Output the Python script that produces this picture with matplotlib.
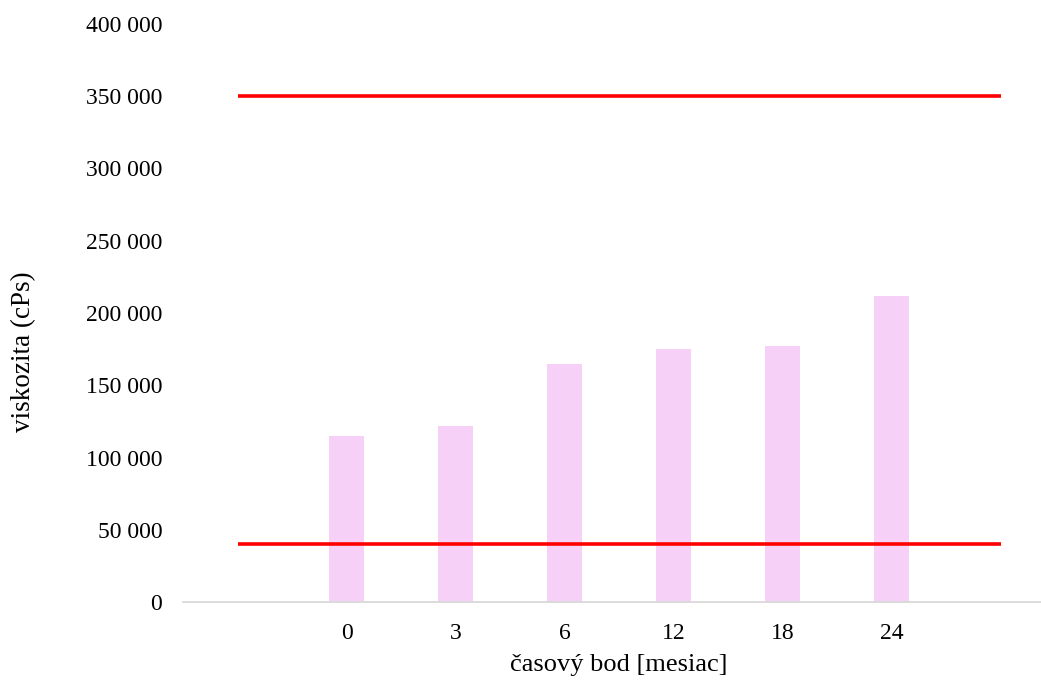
import matplotlib
matplotlib.use("Agg")
import matplotlib.pyplot as plt
from matplotlib.ticker import FuncFormatter

plt.rcParams['font.family'] = ['Liberation Serif', 'DejaVu Serif']

# data
months = ["0", "3", "6", "12", "18", "24"]
viscosity = [115000, 122000, 165000, 175000, 177500, 212000]
# limit lines run over one empty slot on each side of the bars
upper_limit = [350000] * 8
lower_limit = [40000] * 8

fig = plt.figure(figsize=(10.41, 6.84), dpi=100)
ax = fig.add_axes([183 / 1041, 1 - 602 / 684, 872 / 1041, 578 / 684])

bar_pos = list(range(1, len(months) + 1))
ax.bar(bar_pos, viscosity, width=0.317, color='#F7D0F7', zorder=2)

line_pos = list(range(len(upper_limit)))
ax.plot(line_pos, upper_limit, color='#FF0000', linewidth=2.6, zorder=3, solid_capstyle='butt')
ax.plot(line_pos, lower_limit, color='#FF0000', linewidth=2.6, zorder=3, solid_capstyle='butt')

ax.set_xlim(-0.5, 7.5)
ax.set_ylim(0, 400000)
ax.set_yticks(range(0, 400001, 50000))
ax.yaxis.set_major_formatter(FuncFormatter(lambda v, p: f"{int(v):,}".replace(",", " ")))
ax.set_xticks(bar_pos)
ax.set_xticklabels(months)

for s in ['top', 'right', 'left']:
    ax.spines[s].set_visible(False)
ax.spines['bottom'].set_color('#D9D9D9')
ax.spines['bottom'].set_linewidth(1.3)
ax.tick_params(axis='both', length=0, labelsize=17, colors='black')
ax.tick_params(axis='y', pad=15)
ax.tick_params(axis='x', pad=15)

ax.set_xlabel("časový bod [mesiac]", fontsize=19, labelpad=7)
fig.text(24 / 1041, 1 - 352 / 684, "viskozita (cPs)", rotation=90, fontsize=19.5,
         ha='center', va='center')

fig.savefig("out.png", dpi=100)
